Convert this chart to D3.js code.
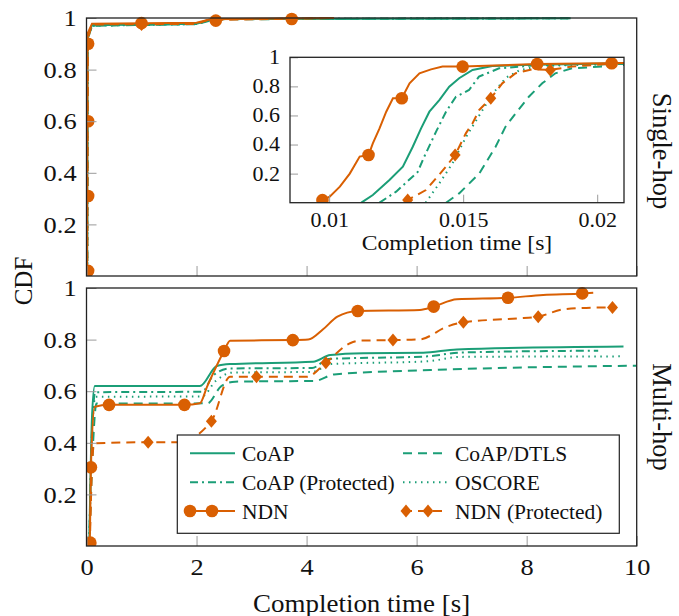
<!DOCTYPE html>
<html>
<head>
<meta charset="utf-8">
<script src="https://cdn.jsdelivr.net/npm/d3@7"></script>
<style>
  body { margin: 0; background: #fff; }
  svg text { font-family: "Liberation Serif", "DejaVu Serif", serif; fill: #111; }
  .axis path.domain { display: none; }
  .axis line { stroke: #9a9a9a; stroke-width: 1; }
</style>
</head>
<body>
<div id="chart"></div>
<script>
// ---- data ----
var yTicks = [0.2, 0.4, 0.6, 0.8, 1];
var xTicks = [0, 2, 4, 6, 8, 10];
var insetXTicks = [0.01, 0.015, 0.02];
var legendNames = ['CoAP', 'CoAP/DTLS', 'CoAP (Protected)', 'OSCORE', 'NDN', 'NDN (Protected)'];

// single-hop, full range [s]
var singleCoap     = [[0.011,0],[0.02,0.93],[0.1,0.972],[2.0,0.978],[2.3,0.996],[8.8,0.999]];
var singleDtls     = [[0.014,0],[0.024,0.92],[0.1,0.97],[2.0,0.976],[2.35,0.995],[8.8,0.999]];
var singleCoapProt = [[0.012,0],[0.022,0.93],[0.1,0.971],[2.0,0.977],[2.3,0.996],[8.8,0.999]];
var singleOscore   = [[0.013,0],[0.023,0.92],[0.1,0.97],[2.0,0.977],[2.3,0.996],[8.8,0.999]];
var singleNdn      = [[0.01,0],[0.02,0.94],[0.1,0.978],[2.0,0.982],[2.25,0.995],[4.5,1]];
var singleNdnProt  = [[0.013,0],[0.025,0.92],[0.1,0.975],[2.0,0.977],[2.2,0.992],[4.4,1]];
var singleNdnMarks     = [[0.03,0.02],[0.03,0.31],[0.03,0.6],[0.03,0.9],[1.0,0.98],[2.35,0.99],[3.73,0.996]];
var singleNdnProtMarks = [[1.0,0.975]];

// single-hop, zoomed inset [s]
var insetCoap     = [[0.0112,0],[0.01163,0.053],[0.01225,0.156],[0.01275,0.248],[0.01312,0.385],[0.01343,0.511],[0.01374,0.626],[0.01411,0.706],[0.01448,0.798],[0.01485,0.856],[0.01535,0.913],[0.01609,0.94],[0.0172,0.947],[0.021,0.959]];
var insetDtls     = [[0.01436,0],[0.01485,0.064],[0.0156,0.2],[0.01621,0.385],[0.01658,0.523],[0.01696,0.615],[0.01745,0.729],[0.01795,0.821],[0.01844,0.89],[0.01906,0.924],[0.021,0.947]];
var insetCoapProt = [[0.01188,0],[0.0125,0.076],[0.0133,0.21],[0.01355,0.317],[0.01399,0.489],[0.01436,0.626],[0.01473,0.729],[0.01522,0.775],[0.01559,0.867],[0.01634,0.924],[0.0178,0.947],[0.021,0.954]];
var insetOscore   = [[0.0136,0],[0.0141,0.13],[0.0146,0.27],[0.0151,0.45],[0.0156,0.6],[0.0161,0.75],[0.0166,0.86],[0.0171,0.91],[0.0178,0.94],[0.021,0.955]];
var insetNdn      = [[0.00975,0.018],[0.01002,0.041],[0.0104,0.11],[0.01077,0.2],[0.01114,0.317],[0.01147,0.328],[0.01163,0.408],[0.01188,0.511],[0.01213,0.626],[0.01238,0.718],[0.01271,0.718],[0.013,0.821],[0.01337,0.89],[0.0138,0.917],[0.01423,0.936],[0.01498,0.936],[0.01776,0.954],[0.021,0.96]];
var insetNdnProt  = [[0.01287,0],[0.01293,0.018],[0.01361,0.087],[0.01436,0.248],[0.0147,0.328],[0.0151,0.477],[0.01535,0.546],[0.0156,0.638],[0.01603,0.718],[0.01646,0.821],[0.01696,0.89],[0.01757,0.917],[0.01825,0.913],[0.01906,0.936],[0.021,0.963]];
var insetNdnMarks     = [[0.00975,0.018],[0.01147,0.328],[0.01271,0.718],[0.01498,0.936],[0.01776,0.954],[0.02054,0.959]];
var insetNdnProtMarks = [[0.01293,0.018],[0.0147,0.328],[0.01603,0.718],[0.01825,0.913]];

// multi-hop [s]
var multiCoap     = [[0.05,0],[0.1,0.5],[0.15,0.62],[2.06,0.62],[2.37,0.698],[2.61,0.705],[4.12,0.714],[4.43,0.74],[5.03,0.747],[6.12,0.749],[6.73,0.762],[9.76,0.773]];
var multiDtls     = [[0.05,0],[0.12,0.4],[0.18,0.552],[2.2,0.553],[2.45,0.62],[2.7,0.637],[4.15,0.64],[4.5,0.665],[6.25,0.682],[8.67,0.695],[10,0.699]];
var multiCoapProt = [[0.05,0],[0.1,0.45],[0.16,0.596],[2.1,0.598],[2.3,0.66],[2.6,0.688],[4.1,0.69],[4.4,0.725],[6.2,0.735],[6.8,0.75],[9.3,0.757]];
var multiOscore   = [[0.05,0],[0.1,0.42],[0.16,0.578],[2.1,0.58],[2.35,0.64],[2.65,0.672],[4.1,0.675],[4.45,0.705],[6.2,0.716],[6.8,0.733],[9.7,0.735]];
var multiNdn      = [[0.06,0.013],[0.08,0.305],[0.15,0.54],[0.41,0.547],[1.78,0.547],[2.06,0.553],[2.19,0.617],[2.5,0.756],[2.61,0.796],[3.75,0.798],[4.03,0.8],[4.3,0.84],[4.56,0.889],[4.93,0.911],[6.06,0.915],[6.31,0.928],[6.73,0.956],[7.66,0.962],[8.3,0.973],[9.01,0.979],[9.21,0.982]];
var multiNdnProt  = [[0.06,0],[0.1,0.3],[0.14,0.398],[1.12,0.402],[1.65,0.402],[2.27,0.484],[2.61,0.656],[3.09,0.656],[4.0,0.656],[4.35,0.71],[4.79,0.786],[4.97,0.796],[5.57,0.798],[6.06,0.801],[6.55,0.85],[6.85,0.867],[7.82,0.882],[8.21,0.889],[8.67,0.917],[9.28,0.924],[9.56,0.924]];
var multiNdnMarks     = [[0.07,0.013],[0.08,0.305],[0.41,0.547],[1.78,0.547],[2.5,0.756],[3.75,0.798],[4.93,0.911],[6.31,0.928],[7.66,0.962],[9.01,0.979]];
var multiNdnProtMarks = [[1.12,0.402],[2.27,0.484],[3.09,0.656],[4.35,0.71],[5.57,0.798],[6.85,0.867],[8.21,0.889],[9.56,0.924]];

// ---- styles ----
var green = '#1b9e77', orange = '#d95f02';
var styles = {
  'CoAP':             { color: green,  dash: null },
  'CoAP/DTLS':        { color: green,  dash: '9,6' },
  'CoAP (Protected)': { color: green,  dash: '8,4,2,4' },
  'OSCORE':           { color: green,  dash: '1.5,4.5' },
  'NDN':              { color: orange, dash: null, mark: 'circle' },
  'NDN (Protected)':  { color: orange, dash: '9,6', mark: 'diamond' }
};

var svgWidth = 679, svgHeight = 616;
var plotLeft = 86.5, plotRight = 636.7;
var stretch = 'scale(1.1,1)';   // the reference's horizontal text runs a bit wide
var svg = d3.select('#chart').append('svg')
    .attr('width', svgWidth).attr('height', svgHeight);

function diamond(cx, cy) {
  return 'M' + cx + ',' + (cy - 6.5) + 'L' + (cx + 5.5) + ',' + cy + 'L' + cx + ',' + (cy + 6.5) + 'L' + (cx - 5.5) + ',' + cy + 'Z';
}

function drawMarks(g, pts, kind, x, y) {
  if (kind === 'circle') {
    g.selectAll(null).data(pts).enter().append('circle')
      .attr('cx', function (d) { return x(d[0]); })
      .attr('cy', function (d) { return y(d[1]); })
      .attr('r', 6.3).attr('fill', orange);
  } else {
    g.selectAll(null).data(pts).enter().append('path')
      .attr('d', function (d) { return diamond(x(d[0]), y(d[1])); })
      .attr('fill', orange);
  }
}

// draws one panel with its curves
function panel(id, box, xDomain, lines, marks, curve) {
  var x = d3.scaleLinear().domain(xDomain).range([box.x0, box.x1]);
  var y = d3.scaleLinear().domain([0, 1]).range([box.y1, box.y0]);

  svg.append('rect').attr('x', box.x0).attr('y', box.y0)
    .attr('width', box.x1 - box.x0).attr('height', box.y1 - box.y0)
    .attr('fill', '#fff');

  svg.append('clipPath').attr('id', id).append('rect')
    .attr('x', box.x0).attr('y', box.y0 - 8)
    .attr('width', box.x1 - box.x0).attr('height', box.y1 - box.y0 + 8);

  var g = svg.append('g').attr('clip-path', 'url(#' + id + ')');
  var line = d3.line().x(function (d) { return x(d[0]); })
      .y(function (d) { return y(d[1]); }).curve(curve);

  lines.forEach(function (s) {
    var st = styles[s.name];
    g.append('path').datum(s.data)
      .attr('d', line).attr('fill', 'none')
      .attr('stroke', st.color).attr('stroke-width', 2)
      .attr('stroke-dasharray', st.dash);
  });
  marks.forEach(function (m) { drawMarks(g, m.data, styles[m.name].mark, x, y); });

  return { x: x, y: y };
}

function frame(box) {
  svg.append('rect').attr('x', box.x0).attr('y', box.y0)
    .attr('width', box.x1 - box.x0).attr('height', box.y1 - box.y0)
    .attr('fill', 'none').attr('stroke', '#222').attr('stroke-width', 1.3);
}

var fmt = function (d) { return String(d); };

// --- top: single-hop ---
var topBox = { x0: plotLeft, x1: plotRight, y0: 18, y1: 276 };
var topPanel = panel('clipTop', topBox, [0, 10], [
  { name: 'CoAP/DTLS', data: singleDtls },
  { name: 'OSCORE', data: singleOscore },
  { name: 'CoAP (Protected)', data: singleCoapProt },
  { name: 'CoAP', data: singleCoap },
  { name: 'NDN (Protected)', data: singleNdnProt },
  { name: 'NDN', data: singleNdn }
], [
  { name: 'NDN (Protected)', data: singleNdnProtMarks },
  { name: 'NDN', data: singleNdnMarks }
], d3.curveLinear);

svg.append('g').attr('class', 'axis').attr('transform', 'translate(0,' + topBox.y1 + ')')
  .call(d3.axisBottom(topPanel.x).tickValues(xTicks).tickSize(-10).tickFormat(''));
svg.append('g').attr('class', 'axis').attr('transform', 'translate(' + plotLeft + ',0)')
  .call(d3.axisLeft(topPanel.y).tickValues(yTicks).tickSize(-10).tickPadding(9).tickFormat(fmt))
  .selectAll('text').style('font-size', '24px').attr('transform', stretch);
frame(topBox);

// inset
var insetBox = { x0: 290, x1: 624, y0: 57.3, y1: 202.7 };
var insetPanel = panel('clipInset', insetBox, [0.00854, 0.021], [
  { name: 'CoAP/DTLS', data: insetDtls },
  { name: 'OSCORE', data: insetOscore },
  { name: 'CoAP (Protected)', data: insetCoapProt },
  { name: 'CoAP', data: insetCoap },
  { name: 'NDN (Protected)', data: insetNdnProt },
  { name: 'NDN', data: insetNdn }
], [
  { name: 'NDN (Protected)', data: insetNdnProtMarks },
  { name: 'NDN', data: insetNdnMarks }
], d3.curveLinear);

svg.append('g').attr('class', 'axis').attr('transform', 'translate(0,' + insetBox.y1 + ')')
  .call(d3.axisBottom(insetPanel.x).tickValues(insetXTicks).tickSize(-8).tickPadding(10).tickFormat(fmt))
  .selectAll('text').style('font-size', '20px').attr('transform', stretch);
svg.append('g').attr('class', 'axis').attr('transform', 'translate(' + insetBox.x0 + ',0)')
  .call(d3.axisLeft(insetPanel.y).tickValues(yTicks).tickSize(-8).tickPadding(9).tickFormat(fmt))
  .selectAll('text').style('font-size', '20px').attr('transform', stretch);
frame(insetBox);
svg.append('text')
  .attr('transform', 'translate(' + ((insetBox.x0 + insetBox.x1) / 2) + ',242) ' + stretch)
  .attr('dy', '0.35em').attr('text-anchor', 'middle').style('font-size', '21.5px')
  .text('Completion time [s]');

// --- bottom: multi-hop ---
var botBox = { x0: plotLeft, x1: plotRight, y0: 288, y1: 546 };
var botPanel = panel('clipBot', botBox, [0, 10], [
  { name: 'CoAP/DTLS', data: multiDtls },
  { name: 'OSCORE', data: multiOscore },
  { name: 'CoAP (Protected)', data: multiCoapProt },
  { name: 'CoAP', data: multiCoap },
  { name: 'NDN (Protected)', data: multiNdnProt },
  { name: 'NDN', data: multiNdn }
], [
  { name: 'NDN (Protected)', data: multiNdnProtMarks },
  { name: 'NDN', data: multiNdnMarks }
], d3.curveMonotoneX);

svg.append('g').attr('class', 'axis').attr('transform', 'translate(0,' + botBox.y1 + ')')
  .call(d3.axisBottom(botPanel.x).tickValues(xTicks).tickSize(-10).tickPadding(12).tickFormat(fmt))
  .selectAll('text').style('font-size', '24px').attr('transform', stretch);
svg.append('g').attr('class', 'axis').attr('transform', 'translate(' + plotLeft + ',0)')
  .call(d3.axisLeft(botPanel.y).tickValues(yTicks).tickSize(-10).tickPadding(9).tickFormat(fmt))
  .selectAll('text').style('font-size', '24px').attr('transform', stretch);

// legend
var lg = svg.append('g');
lg.append('rect').attr('x', 177.3).attr('y', 435).attr('width', 442).attr('height', 98.3)
  .attr('fill', '#fff').attr('stroke', '#222').attr('stroke-width', 1.2);
var colX = [190, 403], rowY = [453.3, 482.3, 511];
legendNames.forEach(function (name, i) {
  var st = styles[name];
  var cx = colX[i % 2], cy = rowY[Math.floor(i / 2)];
  lg.append('line').attr('x1', cx).attr('x2', cx + 45).attr('y1', cy).attr('y2', cy)
    .attr('stroke', st.color).attr('stroke-width', 2).attr('stroke-dasharray', st.dash);
  if (st.mark === 'circle') {
    [cx, cx + 22].forEach(function (mx) {
      lg.append('circle').attr('cx', mx).attr('cy', cy).attr('r', 6.3).attr('fill', orange);
    });
  } else if (st.mark === 'diamond') {
    [cx + 3, cx + 25].forEach(function (mx) {
      lg.append('path').attr('d', diamond(mx, cy)).attr('fill', orange);
    });
  }
  lg.append('text').attr('x', cx + 52).attr('y', cy).attr('dy', '0.35em')
    .style('font-size', '21.5px').text(name);
});
frame(botBox);

// labels
svg.append('text')
  .attr('transform', 'translate(' + ((plotLeft + plotRight) / 2) + ',603) ' + stretch)
  .attr('dy', '0.35em').attr('text-anchor', 'middle').style('font-size', '24.5px')
  .text('Completion time [s]');
svg.append('text').attr('transform', 'translate(23,281) rotate(-90)').attr('dy', '0.35em')
  .attr('text-anchor', 'middle').style('font-size', '25px').text('CDF');
svg.append('text').attr('transform', 'translate(662,151) rotate(90)').attr('dy', '0.35em')
  .attr('text-anchor', 'middle').style('font-size', '26.5px').text('Single-hop');
svg.append('text').attr('transform', 'translate(662,417) rotate(90)').attr('dy', '0.35em')
  .attr('text-anchor', 'middle').style('font-size', '26.5px').text('Multi-hop');
</script>
</body>
</html>
